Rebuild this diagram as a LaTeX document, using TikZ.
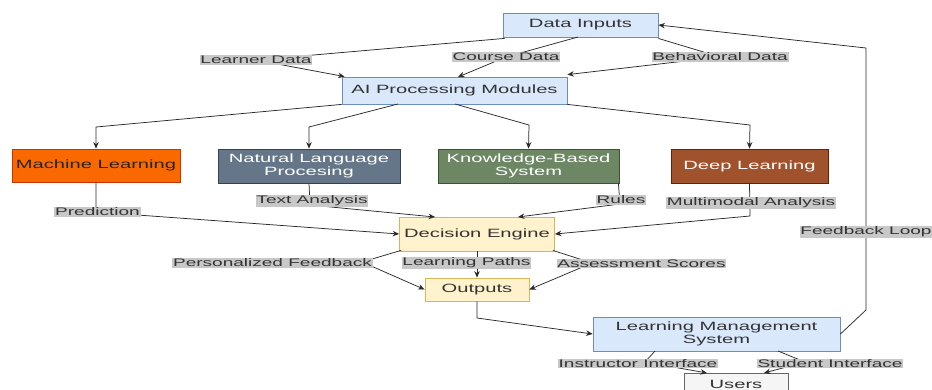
\documentclass[tikz,border=0pt]{standalone}
\usepackage{fontspec}
\setmainfont{Liberation Sans}[FakeStretch=1.68]
\newfontfamily\lblfont{Liberation Sans}[FakeStretch=1.73]
\usetikzlibrary{arrows.meta}

\definecolor{bluefill}{HTML}{DAE8FC}
\definecolor{blueline}{HTML}{6C8EBF}
\definecolor{yelfill}{HTML}{FFF2CC}
\definecolor{yelline}{HTML}{D6B656}
\definecolor{orgfill}{HTML}{FA6800}
\definecolor{orgline}{HTML}{C73500}
\definecolor{slatefill}{HTML}{647687}
\definecolor{slateline}{HTML}{314354}
\definecolor{olivefill}{HTML}{6D8764}
\definecolor{oliveline}{HTML}{3A5431}
\definecolor{brownfill}{HTML}{A0522D}
\definecolor{brownline}{HTML}{6D1F00}
\definecolor{greyfill}{HTML}{F5F5F5}
\definecolor{greyline}{HTML}{666666}
\definecolor{lblgray}{HTML}{C8C8C8}
\definecolor{txt}{HTML}{333333}
\definecolor{linec}{HTML}{2B2B2B}

\begin{document}
\begin{tikzpicture}[x=1pt,y=-1pt,
  box/.style={draw, line width=0.8pt, align=center, inner sep=0pt,
    font=\fontsize{12}{13.5}\selectfont, text=txt},
  lightblue/.style={box, fill=bluefill, draw=blueline},
  lightyel/.style={box, fill=yelfill, draw=yelline},
  lbl/.style={fill=lblgray, inner sep=0.8pt, text=txt,
    font=\lblfont\fontsize{11}{12}\selectfont},
  edge/.style={draw=linec, line width=0.75pt},
  arr/.style={edge, -{Stealth[length=6.5pt,width=5.5pt]}}]

\useasboundingbox[fill=white] (0,0) rectangle (932,389);

% ---------- boxes ----------
\node[lightblue, minimum width=155pt, minimum height=24pt] (di) at (580.5,25) {Data Inputs};
\node[lightblue, minimum width=225pt, minimum height=27pt] (ai) at (454.5,90.5) {AI Processing Modules};

\node[box, fill=orgfill, draw=orgline, text=black!85, minimum width=168pt, minimum height=33pt] (ml) at (96,165.5) {Machine Learning};
\node[box, fill=slatefill, draw=slateline, text=white, minimum width=182pt, minimum height=34pt] (nlp) at (309,166) {Natural Language\\Procesing};
\node[box, fill=olivefill, draw=oliveline, text=white, minimum width=181pt, minimum height=34pt] (kbs) at (528.5,166) {Knowledge-Based\\System};
\node[box, fill=brownfill, draw=brownline, text=white, minimum width=157pt, minimum height=34pt] (dl) at (749.5,166) {Deep Learning};

\node[lightyel, minimum width=155pt, minimum height=34pt] (de) at (477,234) {Decision Engine};
\node[lightyel, minimum width=104pt, minimum height=23pt] (out) at (477,289.5) {Outputs};

\node[lightblue, minimum width=247pt, minimum height=34pt] (lms) at (716.5,334) {Learning Management\\System};
\node[box, fill=greyfill, draw=greyline, minimum width=104pt, minimum height=22pt] (usr) at (736,384) {Users};

% ---------- connectors ----------
\draw[arr] ([xshift=2pt,yshift=-1pt]di.south west) -- (256,60) -- ([xshift=3pt]ai.north west);
\draw[arr] (578,37) -- (506,57) -- (458,77);
\draw[arr] ([yshift=-1pt]di.south east) -- (720,57) -- ([yshift=2pt]ai.north east);

\draw[arr] (ai.south west) -- (96,127) -- (ml.north);
\draw[arr] (398,104) -- (309,127) -- (nlp.north);
\draw[arr] (455,104) -- (529,125) -- (kbs.north);
\draw[arr] (ai.south east) -- (750,125) -- (dl.north);

\draw[arr] (ml.south) -- (96,212) -- (de.west);
\draw[arr] (nlp.south) -- (310,205) -- (435,217);
\draw[arr] ([xshift=-1pt]kbs.south east) -- (620,204) -- (518,217);
\draw[arr] (dl.south) -- (750,216) -- (de.east);

\draw[arr] ([xshift=2pt,yshift=1pt]de.south west) -- (362,262) -- (out.west);
\draw[arr] (de.south) -- (out.north);
\draw[arr] ([xshift=-2pt,yshift=1pt]de.south east) -- (592,263) -- (out.east);

\draw[arr] (out.south) -- (477,318) -- (lms.west);
\draw[arr] (655,351) -- (645,362) -- (707,373);
\draw[arr] (778,351) -- (805,362) -- (764,373);
\draw[arr] (lms.east) -- (866,310) -- (866,48) -- (di.east);

% ---------- connector labels ----------
\node[lbl] (l1) at (256,60) {Learner Data};
\node[lbl] (l2) at (506,57) {Course Data};
\node[lbl] (l3) at (720,57) {Behavioral Data};
\node[lbl] (l4) at (97.5,212) {Prediction};
\node[lbl] (l5) at (312,201) {Text Analysis};
\node[lbl] (l6) at (621,200) {Rules};
\node[lbl] (l7) at (751,203) {Multimodal Analysis};
\node[lbl] (l8) at (866,232) {Feedback Loop};
\node[lbl] (l9) at (272.5,263) {Personalized Feedback};
\node[lbl] (l10) at (466.5,263) {Learning Paths};
\node[lbl] (l11) at (641.5,263.5) {Assessment Scores};
\node[lbl] (l12) at (638,363.5) {Instructor Interface};
\node[lbl] (l13) at (830,363.5) {Student Interface};
\end{tikzpicture}
\end{document}
